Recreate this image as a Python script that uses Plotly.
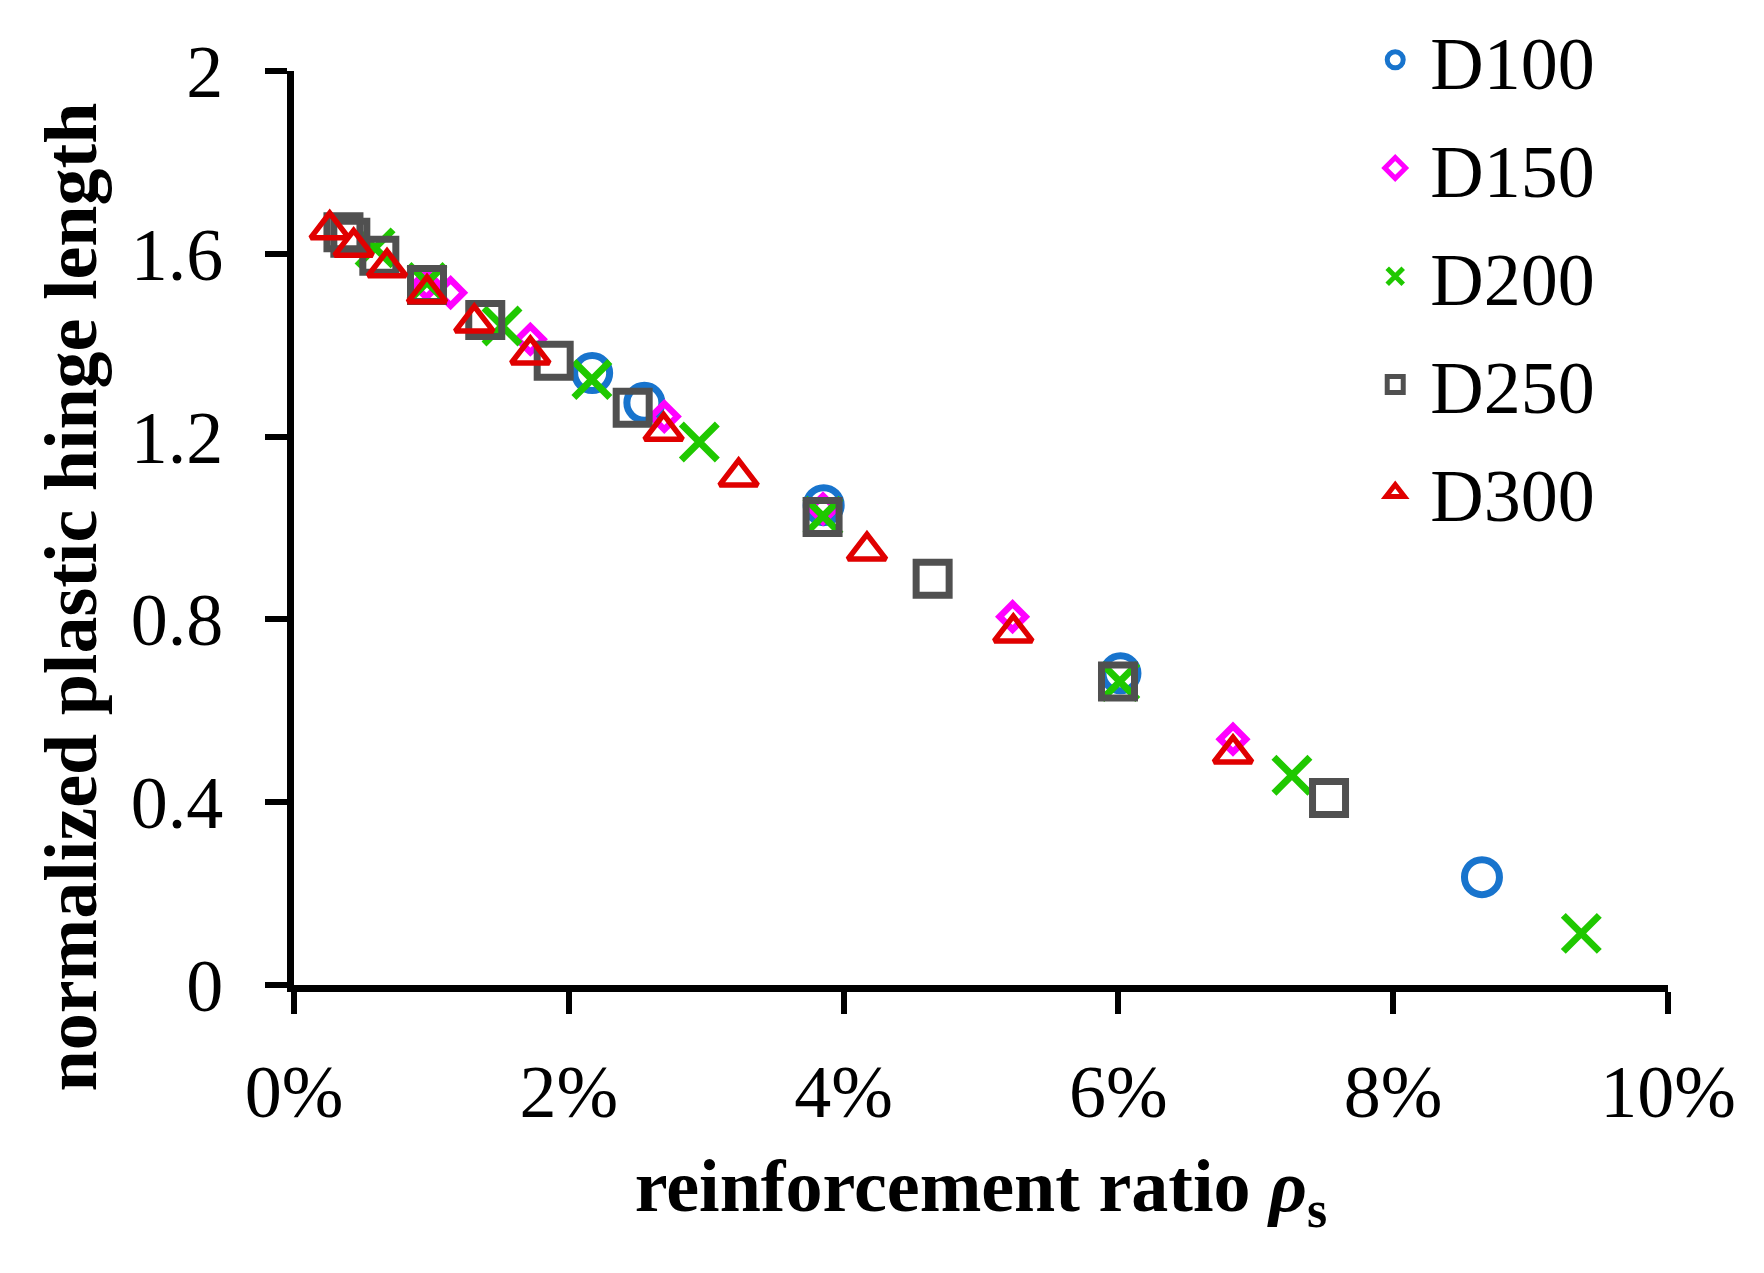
import plotly.graph_objects as go

# Reinforcement ratio (%) and normalized plastic hinge length for each series
d100_x = [2.17, 2.55, 3.855, 6.015, 8.646]
d100_y = [1.339, 1.274, 1.050, 0.682, 0.236]
d150_x = [0.963, 1.14, 1.72, 2.695, 3.85, 5.23, 6.834]
d150_y = [1.533, 1.515, 1.413, 1.244, 1.042, 0.806, 0.538]
d200_x = [0.59, 0.968, 1.514, 2.168, 2.95, 3.85, 6.01, 7.263, 9.369]
d200_y = [1.613, 1.537, 1.442, 1.325, 1.188, 1.026, 0.664, 0.459, 0.113]
d250_x = [0.36, 0.41, 0.621, 0.968, 1.392, 1.89, 2.465, 3.847, 4.648, 5.997, 7.533]
d250_y = [1.647, 1.635, 1.596, 1.532, 1.455, 1.366, 1.263, 1.024, 0.889, 0.664, 0.409]
d300_x = [0.26, 0.434, 0.677, 0.968, 1.312, 1.72, 2.69, 3.236, 4.17, 5.235, 6.834]
d300_y = [1.653, 1.615, 1.570, 1.513, 1.449, 1.379, 1.212, 1.112, 0.950, 0.771, 0.506]

series_names = ["D100", "D150", "D200", "D250", "D300"]
x_ticks = [0, 2, 4, 6, 8, 10]
y_ticks = [0, 0.4, 0.8, 1.2, 1.6, 2]

FONT = "Liberation Serif"

styles = [
    dict(symbol="circle-open", size=35, color="#1874cd", line=dict(width=7, color="#1874cd")),
    dict(symbol="diamond-open", size=20, color="#ff00ff", line=dict(width=6.5, color="#ff00ff")),
    dict(symbol="x-thin-open", size=36, color="#1fc800", line=dict(width=7, color="#1fc800")),
    dict(symbol="square-open", size=33, color="#505050", line=dict(width=7, color="#505050")),
    dict(symbol="triangle-up-open", size=33, color="#e00000", line=dict(width=5.5, color="#e00000")),
]
data = [(d100_x, d100_y), (d150_x, d150_y), (d200_x, d200_y), (d250_x, d250_y), (d300_x, d300_y)]

fig = go.Figure()
for name, (xs, ys), st in zip(series_names, data, styles):
    fig.add_trace(go.Scatter(x=xs, y=ys, mode="markers", name=name, legendgroup=name,
                             marker=st, cliponaxis=False))

axis_common = dict(showline=True, linecolor="black", linewidth=7, ticks="outside",
                   ticklen=22, tickwidth=6, tickcolor="black", showgrid=False, zeroline=False,
                   automargin=False,
                   tickfont=dict(family=FONT, size=74, color="black"))

# the page body adds an 8px offset; margins compensate for it
fig.update_layout(
    width=1764, height=1273,
    margin=dict(l=286, r=104, t=63, b=296, autoexpand=False),
    paper_bgcolor="white", plot_bgcolor="white",
    font=dict(family=FONT, color="black"),
    xaxis=dict(range=[0, 10], tickvals=x_ticks, ticktext=[f"{v}%" for v in x_ticks],
               ticklabelstandoff=14,
               title=dict(text="<b>reinforcement ratio <i>ρ</i><sub>s</sub></b>", standoff=30,
                          font=dict(family=FONT, size=74, color="black")),
               **axis_common),
    yaxis=dict(range=[0, 2], tickvals=y_ticks, ticktext=[f"{v:g}" for v in y_ticks],
               ticklabelstandoff=27, **axis_common),
    legend=dict(x=0.776, y=1.072, xanchor="left", yanchor="top", bgcolor="rgba(0,0,0,0)",
                font=dict(family=FONT, size=74, color="black"), itemwidth=60,
                tracegroupgap=9, itemsizing="trace"),
    showlegend=True,
    annotations=[
        dict(text="<b>normalized plastic hinge length</b>", xref="paper", yref="paper",
             x=-0.162, y=0.4245, xanchor="center", yanchor="middle", textangle=-90,
             showarrow=False, font=dict(family=FONT, size=74, color="black")),
    ],
)

fig.write_html("out.html")
